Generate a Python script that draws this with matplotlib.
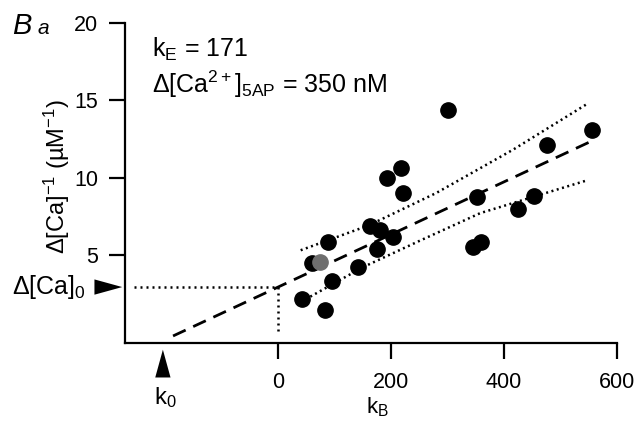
import numpy as np
import matplotlib
matplotlib.use("Agg")
import matplotlib.pyplot as plt

plt.rcParams['font.family'] = ['Liberation Sans', 'DejaVu Sans']
plt.rcParams['mathtext.fontset'] = 'custom'
plt.rcParams['mathtext.rm'] = 'Liberation Sans'
plt.rcParams['mathtext.it'] = 'Liberation Sans:italic'

# data
kB = [301, 556, 477, 218, 192, 222, 353, 454, 425, 163, 180, 204, 175,
      360, 346, 88, 60, 141, 96, 42, 83]
inv_ca = [14.35, 13.06, 12.1, 10.6, 10.0, 9.02, 8.72, 8.8, 7.97, 6.87, 6.6,
          6.14, 5.37, 5.86, 5.54, 5.82, 4.46, 4.2, 3.28, 2.16, 1.45]
gray_k = [75]
gray_y = [4.53]

# linear fit (dashed)
fit_intercept = 2.92
fit_slope = 0.0170
fit_range = [-186, 556]

# confidence bands (dotted)
upper_k = [40, 160, 280, 416, 549]
upper_y = [5.3, 6.9, 9.0, 11.8, 14.8]
lower_k = [57, 150, 250, 358, 549]
lower_y = [2.3, 4.2, 5.9, 7.7, 9.84]

k0 = -204

fig = plt.figure(figsize=(6.38, 4.23), dpi=100)
ax = fig.add_axes([0.196, 0.189, 0.771, 0.757])

fx = np.array(fit_range)
ax.plot(fx, fit_intercept + fit_slope * fx, color='black', lw=2.0,
        dashes=(5, 3), zorder=2)
ax.plot(upper_k, upper_y, color='black', lw=1.8, ls=(0, (0.8, 1.4)), zorder=2)
ax.plot(lower_k, lower_y, color='black', lw=1.8, ls=(0, (0.8, 1.4)), zorder=2)

# intercept guides
ax.plot([-255, 0], [fit_intercept, fit_intercept], color='black', lw=1.8,
        ls=(0, (0.8, 1.6)), zorder=2)
ax.plot([0, 0], [fit_intercept, -0.1], color='black', lw=1.8,
        ls=(0, (0.8, 1.6)), zorder=2)

ax.plot(kB, inv_ca, 'o', color='black', ms=11, zorder=3)
ax.plot(gray_k, gray_y, 'o', color='#6e6e6e', ms=11, zorder=4)

ax.set_xlim(-271, 600)
ax.set_ylim(-0.7, 20)
ax.set_xticks([0, 200, 400, 600])
ax.set_yticks([5, 10, 15, 20])
for s in ['top', 'right']:
    ax.spines[s].set_visible(False)
for s in ['left', 'bottom']:
    ax.spines[s].set_linewidth(1.6)
ax.tick_params(direction='out', length=11.5, width=1.6, labelsize=15.5, pad=8)
ax.tick_params(axis='x', pad=9.5)

ax.set_xlabel('k$_{\\mathrm{B}}$', fontsize=16)
ax.xaxis.set_label_coords(0.514, -0.165)
ax.set_ylabel('\u0394[Ca]$^{\\mathrm{-1}}$ (\u00b5M$^{\\mathrm{-1}}$)', fontsize=17)
ax.yaxis.set_label_coords(-0.108, 0.52)

# arrows for intercepts
head = dict(arrowstyle='-|>,head_length=2.0,head_width=0.55', color='black',
            lw=0, shrinkA=0, shrinkB=0, mutation_scale=10)
ax.annotate('', xy=(-276, fit_intercept), xytext=(-380, fit_intercept),
            annotation_clip=False, arrowprops=head)
ax.annotate('', xy=(k0, -1.13), xytext=(k0, -4.2), annotation_clip=False,
            arrowprops=head)
fig.text(0.135, 1 - 287 / 423, '\u0394[Ca]$_0$', fontsize=18, ha='right',
         va='center')
fig.text(165 / 638, 1 - 398 / 423, 'k$_0$', fontsize=17, ha='center',
         va='center')

fig.text(152 / 638, 1 - 57 / 423, 'k$_{\\mathrm{E}}$ = 171', fontsize=18,
         va='baseline')
fig.text(152 / 638, 1 - 93 / 423,
         '\u0394[Ca$^{\\mathrm{2+}}$]$_{\\mathrm{5AP}}$ = 350 nM', fontsize=18,
         va='baseline')
fig.text(12 / 638, 1 - 34 / 423, 'B', fontsize=21, style='italic', va='baseline')
fig.text(38 / 638, 1 - 34 / 423, 'a', fontsize=15, style='italic', va='baseline')

fig.savefig('out.png', dpi=100)
